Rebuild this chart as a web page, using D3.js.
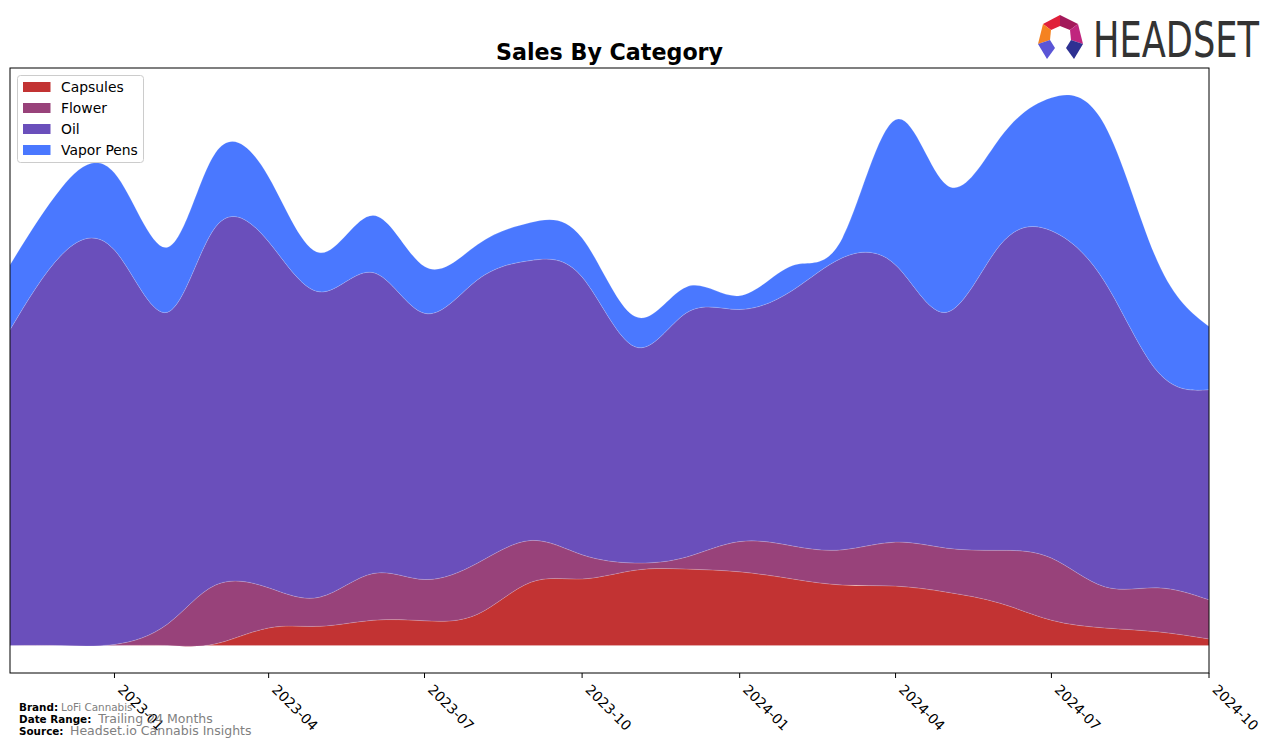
<!DOCTYPE html>
<html>
<head>
<meta charset="utf-8">
<script src="https://cdn.jsdelivr.net/npm/d3@7"></script>
<style>
  html, body { margin: 0; padding: 0; background: #fff; }
  svg { display: block; font-family: "DejaVu Sans", sans-serif; }
</style>
</head>
<body>
<svg id="chart" width="1276" height="748"></svg>
<script>
// ---- data ----
const months = ["2022-11","2022-12","2023-01","2023-02","2023-03","2023-04","2023-05","2023-06",
  "2023-07","2023-08","2023-09","2023-10","2023-11","2023-12","2024-01","2024-02","2024-03",
  "2024-04","2024-05","2024-06","2024-07","2024-08","2024-09","2024-10"];
const categories = ["Capsules", "Flower", "Oil", "Vapor Pens"];
const capsules  = [0, 0, 0, 0, 0.3, 3.2, 3.5, 4.6, 4.5, 5.7, 11.5, 12.1, 13.7, 13.9, 13.4, 12.1, 11.0, 10.8, 9.7, 7.7, 4.6, 3.2, 2.5, 1.2];
const flower    = [0, 0, 0.2, 3.9, 10.7, 7.3, 5.3, 8.5, 7.5, 9.3, 7.6, 4.4, 1.3, 2.2, 5.5, 6.0, 6.4, 8.0, 8.0, 9.6, 11.3, 7.5, 8.0, 7.1];
const oil       = [57.4, 71.0, 71.7, 56.7, 65.1, 62.9, 55.5, 54.7, 48.4, 51.5, 50.9, 50.5, 39.3, 44.4, 42.2, 46.5, 53.1, 50.4, 42.9, 55.5, 59.5, 55.5, 39.3, 38.2];
const vaporPens = [11.8, 12.2, 14.0, 11.8, 13.5, 11.8, 7.1, 10.4, 8.5, 6.4, 6.9, 7.1, 5.5, 4.7, 2.5, 4.5, 3.6, 26.4, 23.1, 19.5, 24.2, 28.5, 20.0, 11.5];
const tickLabels = ["2023-01","2023-04","2023-07","2023-10","2024-01","2024-04","2024-07","2024-10"];
const colors = ["#c23333", "#98427a", "#6a4fbb", "#4a78ff"];

// ---- layout ----
const svg = d3.select("#chart");
const L = 10, R = 1209, T = 68, B = 673;
const parse = d3.timeParse("%Y-%m");

const table = months.map((m, i) => ({
  date: parse(m),
  "Capsules": capsules[i], "Flower": flower[i], "Oil": oil[i], "Vapor Pens": vaporPens[i]
}));

const x = d3.scaleTime().domain([parse(months[0]), parse(months[months.length - 1])]).range([L, R]);
const series = d3.stack().keys(categories)(table);
const yMax = 100, yMin = 0, pad = (yMax - yMin) * 0.05;
const y = d3.scaleLinear().domain([yMin - pad, yMax + pad]).range([B, T]);

svg.append("defs").append("clipPath").attr("id", "clip")
  .append("rect").attr("x", L).attr("y", T).attr("width", R - L).attr("height", B - T);

const area = d3.area()
  .x(d => x(d.data.date))
  .y0(d => y(d[0]))
  .y1(d => y(d[1]))
  .curve(d3.curveNatural);

svg.append("g").attr("clip-path", "url(#clip)")
  .selectAll("path").data(series).join("path")
  .attr("d", area)
  .attr("fill", (d, i) => colors[i])
  .attr("stroke", "#ffffff").attr("stroke-opacity", 0.25).attr("stroke-width", 0.6);

// frame
svg.append("rect").attr("x", L).attr("y", T).attr("width", R - L).attr("height", B - T)
  .attr("fill", "none").attr("stroke", "#000").attr("stroke-width", 1);

// x axis ticks
const tickDates = tickLabels.map(parse);
const ax = svg.append("g");
ax.selectAll("line").data(tickDates).join("line")
  .attr("x1", d => x(d)).attr("x2", d => x(d))
  .attr("y1", B).attr("y2", B + 5)
  .attr("stroke", "#000").attr("stroke-width", 1);
ax.selectAll("text").data(tickDates).join("text")
  .attr("transform", d => `translate(${x(d) + 2.4},${B + 17.5}) rotate(45)`)
  .attr("font-size", 13.9).attr("fill", "#000")
  .text((d, i) => tickLabels[i]);

// title
svg.append("text").attr("x", (L + R) / 2).attr("y", 60)
  .attr("text-anchor", "middle").attr("font-size", 22.2).attr("font-weight", "bold")
  .text("Sales By Category");

// legend
const lg = svg.append("g");
lg.append("rect").attr("x", 17.5).attr("y", 75.5).attr("width", 126).attr("height", 87)
  .attr("rx", 3).attr("fill", "#fff").attr("fill-opacity", 0.8)
  .attr("stroke", "#cccccc").attr("stroke-width", 1);
categories.forEach((c, i) => {
  const yy = 87 + i * 21;
  lg.append("rect").attr("x", 23).attr("y", yy - 5).attr("width", 27.5).attr("height", 10)
    .attr("fill", colors[i]);
  lg.append("text").attr("x", 61).attr("y", yy + 5).attr("font-size", 13.9).text(c);
});

// footer
const foot = [["Brand:", "LoFi Cannabis", 10.4, 3], ["Date Range:", "Trailing 24 Months", 12.5, 7], ["Source:", "Headset.io Cannabis Insights", 12.5, 6.5]];
foot.forEach((f, i) => {
  const t = svg.append("text").attr("x", 19).attr("y", 711 + i * 12);
  t.append("tspan").attr("font-weight", "bold").attr("font-size", 10.4).attr("fill", "#000").text(f[0]);
  t.append("tspan").attr("font-size", f[2]).attr("fill", "#808080").attr("dx", f[3]).text(f[1]);
});

// logo
const logo = svg.append("g");
const polys = [
  ["#e0203a", [[1043,24],[1060,15],[1060,26],[1051,30]]],
  ["#a3195b", [[1060,15],[1078,24],[1070,30],[1060,26]]],
  ["#f58220", [[1043,24],[1051,30],[1050,40],[1038,44]]],
  ["#c0267e", [[1078,24],[1083,44],[1071,40],[1070,30]]],
  ["#5a55d6", [[1038,44],[1050,40],[1055,48],[1047,59]]],
  ["#2e3192", [[1083,44],[1071,40],[1066,48],[1074,59]]]
];
polys.forEach(p => {
  logo.append("polygon").attr("points", p[1].map(q => q.join(",")).join(" ")).attr("fill", p[0]);
});
logo.append("text").attr("x", 1093).attr("y", 57)
  .attr("font-size", 50).attr("fill", "#333333")
  .attr("textLength", 166).attr("lengthAdjust", "spacingAndGlyphs")
  .text("HEADSET");
</script>
</body>
</html>
